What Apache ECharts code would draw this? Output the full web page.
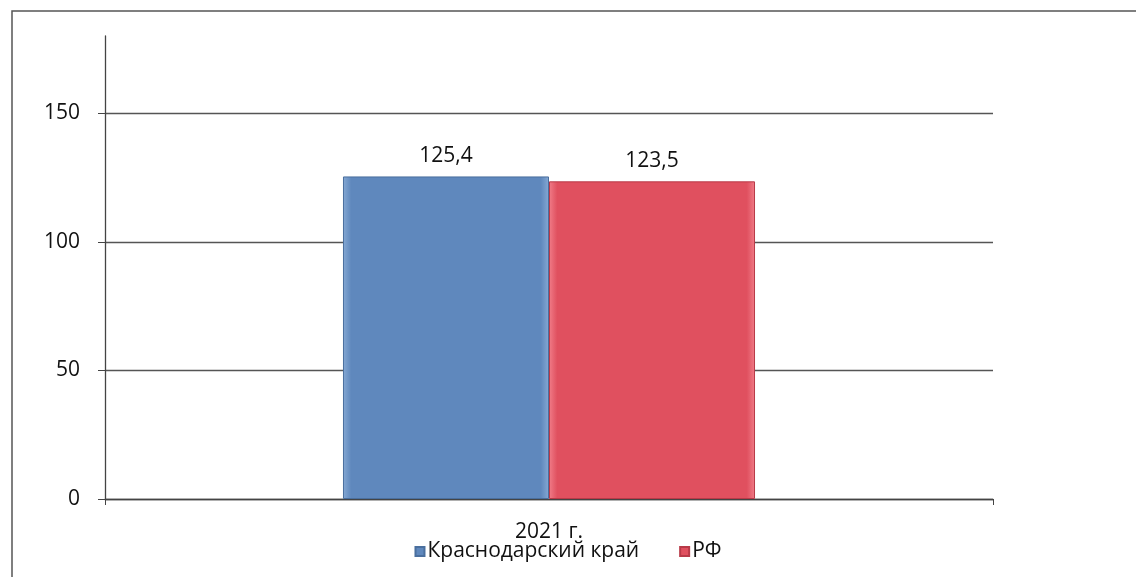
<!DOCTYPE html>
<html><head><meta charset="utf-8">
<script src="https://cdn.jsdelivr.net/npm/echarts@6/dist/echarts.min.js"></script>
<style>html,body{margin:0;padding:0;background:#fff}#c{width:1136px;height:577px}</style>
</head><body><div id="c"></div>
<script>
const categories = ['2021 г.'];
const seriesNames = ['Краснодарский край', 'РФ'];
const krasnodarValues = [125.4];
const rfValues = [123.5];
const yTicks = [0, 50, 100, 150];

const chart = echarts.init(document.getElementById('c'));
const fmt = v => String(v).replace('.', ',');
const font = "'Open Sans', 'DejaVu Sans', sans-serif";
const fs = 21;
function barStyle(c1, c2, c3) {
  return {
    color: new echarts.graphic.LinearGradient(0, 0, 1, 0, [
      {offset: 0, color: c3}, {offset: 0.04, color: c1}, {offset: 0.96, color: c1}, {offset: 1, color: c3}
    ]),
    borderColor: c2, borderWidth: 1
  };
}
chart.setOption({
  animation: false,
  backgroundColor: '#fff',
  graphic: [
    {type: 'polyline', shape: {points: [[12, 600], [12, 11], [1140, 11]]}, style: {stroke: '#555', lineWidth: 1.5, fill: null}}
  ],
  grid: {left: 105, right: 143, top: 36, bottom: 78},
  legend: {
    data: seriesNames, bottom: 10, left: 'center', itemGap: 40,
    itemWidth: 9, itemHeight: 9, icon: 'rect',
    textStyle: {fontFamily: font, fontSize: fs, color: '#111', padding: [0, 0, 0, -2]}
  },
  xAxis: {
    type: 'category', data: categories,
    axisLine: {lineStyle: {color: '#444', width: 1.3}},
    axisTick: {show: true, alignWithLabel: false, length: 6, lineStyle: {color: '#444'}},
    axisLabel: {fontFamily: font, fontSize: 21, color: '#111', margin: 23}
  },
  yAxis: {
    type: 'value', min: 0, max: 180, interval: 50,
    axisLine: {show: true, lineStyle: {color: '#444', width: 1.3}},
    axisTick: {show: true, length: 7, lineStyle: {color: '#444'}},
    axisLabel: {fontFamily: font, fontSize: fs, color: '#111', margin: 25, showMaxLabel: false,
      formatter: v => yTicks.includes(v) ? fmt(v) : ''},
    splitLine: {show: true, lineStyle: {color: ['#555', '#555', '#555', '#555', 'rgba(0,0,0,0)'], width: 1.3}}
  },
  series: [
    {name: seriesNames[0], type: 'bar', data: krasnodarValues, barWidth: '23.2%', barGap: '0%',
      itemStyle: barStyle('#5f88bd', '#4a6f9e', '#86a9d4'),
      label: {show: true, position: 'top', distance: 10, formatter: p => fmt(p.value), fontFamily: font, fontSize: fs, color: '#111'}},
    {name: seriesNames[1], type: 'bar', data: rfValues, barWidth: '23.2%',
      itemStyle: barStyle('#e0505f', '#b83a48', '#f07c88'),
      label: {show: true, position: 'top', distance: 10, formatter: p => fmt(p.value), fontFamily: font, fontSize: fs, color: '#111'}}
  ]
});
</script></body></html>
